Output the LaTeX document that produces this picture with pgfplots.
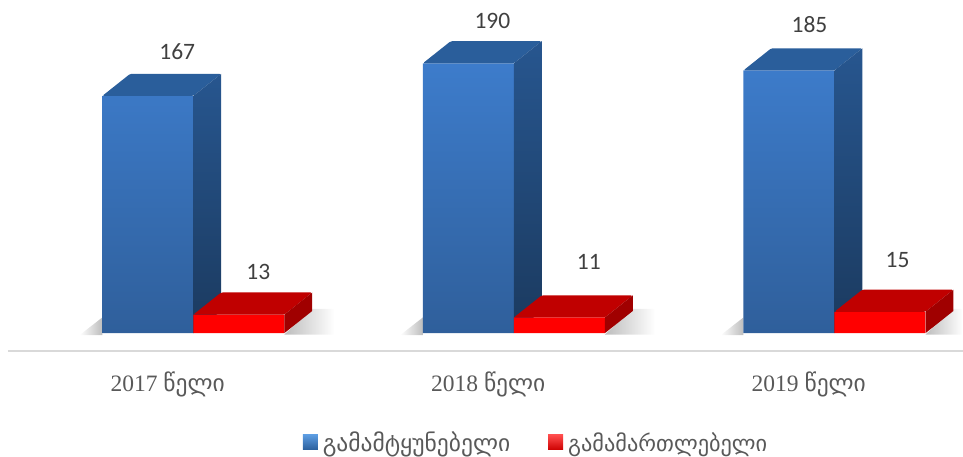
\documentclass[border=0pt]{standalone}
\usepackage{pgfplots}
\pgfplotsset{compat=1.18}
\usepackage{fontspec}
\setmainfont{Liberation Serif}
\newfontfamily\geo{DejaVu Sans}
\newfontfamily\calfont{Carlito}
\definecolor{txt}{HTML}{595959}
\definecolor{lab}{HTML}{404040}
\definecolor{shad}{HTML}{BDBDBD}
\definecolor{frontA}{HTML}{3D7CCB}
\definecolor{frontB}{HTML}{2F5F9B}
\definecolor{topblue}{HTML}{2A5E9B}
\definecolor{sideA}{HTML}{27568F}
\definecolor{sideB}{HTML}{1B3A5F}
\definecolor{topred}{HTML}{C00000}
\definecolor{sidered}{HTML}{A00000}
\definecolor{legA}{HTML}{5B9BE0}
\definecolor{legB}{HTML}{2A5E9B}
\newcommand\keybox[2]{\fill[top color=#1,bottom color=#2,draw=none] (0pt,-7.5pt) rectangle (15pt,7.5pt); \path (18pt,0pt);}
\begin{document}
\begin{tikzpicture}
\useasboundingbox (-8pt,-106pt) rectangle (955pt,351pt);
\begin{axis}[
  at={(0pt,0pt)},anchor=south west,
  scale only axis,width=955pt,height=351pt,
  xmin=-0.578,xmax=2.401,ymin=-12.6,ymax=234.6,
  clip=false,
  axis y line=none,
  axis x line=bottom,
  x axis line style={draw=black!15,line width=1.2pt,-},
  xtick={-0.08,0.92,1.92},
  xticklabels={{2017 {\geo\fontsize{23.5}{23.5}\selectfont წელი}},{2018 {\geo\fontsize{23.5}{23.5}\selectfont წელი}},{2019 {\geo\fontsize{23.5}{23.5}\selectfont წელი}}},
  major tick length=0pt,
  xticklabel style={font=\fontsize{23.5}{23.5}\selectfont,text=txt,yshift=-17pt,anchor=north},
  legend columns=2,
  legend style={at={(axis cs:0.341,-77)},anchor=west,draw=none,fill=none,
    font=\geo\fontsize{23}{23}\selectfont,text=txt,
    /tikz/every even column/.append style={column sep=36pt},
    inner sep=0pt},
]
% shadows
\addplot[forget plot,draw=none,left color=white,right color=shad] coordinates {(-0.355,-1.5) (-0.284,-1.5) (-0.284,11)} --cycle;
\addplot[forget plot,draw=none,left color=shad,right color=white] coordinates {(0.284,-1) (0.44,-1) (0.44,17) (0.371,17)} --cycle;
\addplot[forget plot,draw=none,left color=white,right color=shad] coordinates {(0.645,-1.5) (0.716,-1.5) (0.716,11)} --cycle;
\addplot[forget plot,draw=none,left color=shad,right color=white] coordinates {(1.284,-1) (1.44,-1) (1.44,17) (1.371,17)} --cycle;
\addplot[forget plot,draw=none,left color=white,right color=shad] coordinates {(1.645,-1.5) (1.716,-1.5) (1.716,11)} --cycle;
\addplot[forget plot,draw=none,left color=shad,right color=white] coordinates {(2.284,-1) (2.40,-1) (2.40,17) (2.371,17)} --cycle;
% blue
\addplot[ybar,bar width=91pt,bar shift=-45.5pt,draw=none,top color=frontA,bottom color=frontB,area legend,
  legend image code/.code={\keybox{legA}{legB}}] coordinates {(0,167) (1,190) (2,185)};
\addlegendentry{\fontsize{23.5}{23.5}\selectfont გამამტყუნებელი}
\addplot[forget plot,draw=none,rounded corners=1.5pt,fill=topblue] coordinates {(-0.284,167) (-0.197,182.6) (0.087,182.6) (0,167)} --cycle;
\addplot[forget plot,draw=none,top color=sideA,bottom color=sideB] coordinates {(0,167) (0.087,182.6) (0.087,15.6) (0,0)} --cycle;
\addplot[forget plot,draw=none,rounded corners=1.5pt,fill=topblue] coordinates {(0.716,190) (0.803,205.6) (1.087,205.6) (1,190)} --cycle;
\addplot[forget plot,draw=none,top color=sideA,bottom color=sideB] coordinates {(1,190) (1.087,205.6) (1.087,15.6) (1,0)} --cycle;
\addplot[forget plot,draw=none,rounded corners=1.5pt,fill=topblue] coordinates {(1.716,185) (1.803,200.6) (2.087,200.6) (2,185)} --cycle;
\addplot[forget plot,draw=none,top color=sideA,bottom color=sideB] coordinates {(2,185) (2.087,200.6) (2.087,15.6) (2,0)} --cycle;
% red
\addplot[ybar,bar width=91pt,bar shift=45.5pt,draw=none,fill=red,area legend,
  legend image code/.code={\keybox{red!70!white}{red!80!black}}] coordinates {(0,13) (1,11) (2,15)};
\addlegendentry{\fontsize{22.3}{22.3}\selectfont გამამართლებელი}
\addplot[forget plot,draw=none,rounded corners=1.5pt,fill=topred] coordinates {(0,13) (0.087,28.6) (0.371,28.6) (0.284,13)} --cycle;
\addplot[forget plot,draw=none,fill=sidered] coordinates {(0.284,13) (0.371,28.6) (0.371,15.6) (0.284,0)} --cycle;
\addplot[forget plot,draw=none,rounded corners=1.5pt,fill=topred] coordinates {(1,11) (1.087,26.6) (1.371,26.6) (1.284,11)} --cycle;
\addplot[forget plot,draw=none,fill=sidered] coordinates {(1.284,11) (1.371,26.6) (1.371,15.6) (1.284,0)} --cycle;
\addplot[forget plot,draw=none,rounded corners=1.5pt,fill=topred] coordinates {(2,15) (2.087,30.6) (2.371,30.6) (2.284,15)} --cycle;
\addplot[forget plot,draw=none,fill=sidered] coordinates {(2.284,15) (2.371,30.6) (2.371,15.6) (2.284,0)} --cycle;
% value labels
\node[font=\calfont\fontsize{23.5}{23.5}\selectfont,text=lab] at (axis cs:-0.05,198) {167};
\node[font=\calfont\fontsize{23.5}{23.5}\selectfont,text=lab] at (axis cs:0.203,43) {13};
\node[font=\calfont\fontsize{23.5}{23.5}\selectfont,text=lab] at (axis cs:0.933,219.7) {190};
\node[font=\calfont\fontsize{23.5}{23.5}\selectfont,text=lab] at (axis cs:1.234,50) {11};
\node[font=\calfont\fontsize{23.5}{23.5}\selectfont,text=lab] at (axis cs:1.922,217.6) {185};
\node[font=\calfont\fontsize{23.5}{23.5}\selectfont,text=lab] at (axis cs:2.197,51.5) {15};
\end{axis}
\end{tikzpicture}
\end{document}
